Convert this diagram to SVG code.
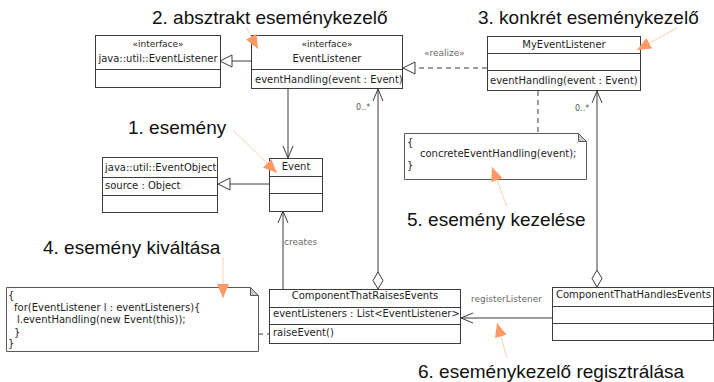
<svg xmlns="http://www.w3.org/2000/svg" width="714" height="382" viewBox="0 0 714 382">
  <style>
    .box { fill: #ffffff; stroke: #3c3c3c; stroke-width: 1; }
    .div { stroke: #3c3c3c; stroke-width: 1; }
    .t { font-family: "DejaVu Sans", sans-serif; font-size: 10px; fill: #1e1e1e; }
    .c { text-anchor: middle; }
    .lbl { font-family: "DejaVu Sans", sans-serif; font-size: 9px; fill: #6a6a6a; }
    .mult { font-family: "DejaVu Sans", sans-serif; font-size: 8px; fill: #555555; }
    .big { font-family: "Liberation Sans", Arial, sans-serif; font-size: 19px; fill: #111111; }
    .edge { fill: none; stroke: #3c3c3c; stroke-width: 1; }
    .dash { stroke-dasharray: 5 4; }
    .hollow { fill: #ffffff; stroke: #3c3c3c; stroke-width: 1; }
    .note { fill: #ffffff; stroke: #5a5a5a; stroke-width: 1; }
    .fold { fill: #c8c8c8; stroke: #5a5a5a; stroke-width: 1; }
    .callout { fill: none; stroke: #ffcdb0; stroke-width: 1; marker-end: url(#orangeHead); }
  </style>
  <defs>
    <marker id="orangeHead" markerUnits="userSpaceOnUse" markerWidth="16" markerHeight="14" refX="14" refY="6" orient="auto">
      <path d="M0,0 L14,6 L0,12 Z" fill="#ff9966"/>
    </marker>
  </defs>

  <rect width="714" height="382" fill="#ffffff"/>

  <!-- connectors -->
  <g id="connectors">
    <!-- EventListener generalizes java::util::EventListener -->
    <line class="edge" x1="251" y1="61" x2="232" y2="61"/>
    <path class="hollow" d="M220,61 L232,55 L232,67 Z"/>

    <!-- MyEventListener realizes EventListener -->
    <line class="edge dash" x1="487" y1="68" x2="415" y2="68"/>
    <path class="hollow" d="M403,68 L415,62 L415,74 Z"/>
    <text class="lbl" x="424" y="56">«realize»</text>

    <!-- EventListener uses Event -->
    <line class="edge" x1="288" y1="89" x2="288" y2="158"/>
    <path class="edge" d="M283,146 L288,158 L293,146"/>

    <!-- Event generalizes java::util::EventObject -->
    <line class="edge" x1="269" y1="184" x2="230" y2="184"/>
    <path class="hollow" d="M218,184 L230,178 L230,190 Z"/>

    <!-- creates -->
    <line class="edge" x1="283" y1="289" x2="283" y2="211"/>
    <path class="edge" d="M278,223 L283,211 L288,223"/>
    <text class="lbl" x="284" y="245">creates</text>

    <!-- ComponentThatRaisesEvents aggregates EventListener -->
    <line class="edge" x1="378" y1="272" x2="378" y2="89"/>
    <path class="edge" d="M373,101 L378,89 L383,101"/>
    <path class="hollow" d="M378,272 L373,280.5 L378,289 L383,280.5 Z"/>
    <text class="mult" x="356" y="110">0..*</text>

    <!-- ComponentThatHandlesEvents aggregates MyEventListener -->
    <line class="edge" x1="597" y1="270" x2="597" y2="91"/>
    <path class="edge" d="M592,103 L597,91 L602,103"/>
    <path class="hollow" d="M597,270 L592,278.5 L597,287 L602,278.5 Z"/>
    <text class="mult" x="575" y="111">0..*</text>

    <!-- note anchors -->
    <line class="edge dash" x1="538" y1="91" x2="538" y2="133"/>
    <line class="edge dash" x1="258" y1="334" x2="269" y2="334"/>

    <!-- registerListener -->
    <line class="edge" x1="552" y1="318" x2="461" y2="318"/>
    <path class="edge" d="M473,313 L461,318 L473,323"/>
    <text class="lbl" x="471" y="302">registerListener</text>
  </g>

  <!-- class nodes -->
  <g id="java-util-EventListener">
    <rect class="box" x="95.5" y="35.5" width="125" height="52"/>
    <line class="div" x1="95.5" y1="69.5" x2="220.5" y2="69.5"/>
    <text class="t c" x="158" y="47" style="font-size:9px">«interface»</text>
    <text class="t c" x="158" y="62">java::util::EventListener</text>
  </g>

  <g id="EventListener">
    <rect class="box" x="251.5" y="35.5" width="151" height="53"/>
    <line class="div" x1="251.5" y1="69.5" x2="402.5" y2="69.5"/>
    <text class="t c" x="327" y="47" style="font-size:9px">«interface»</text>
    <text class="t c" x="327" y="62">EventListener</text>
    <text class="t" x="255" y="83">eventHandling(event : Event)</text>
  </g>

  <g id="MyEventListener">
    <rect class="box" x="487.5" y="36.5" width="153" height="54"/>
    <line class="div" x1="487.5" y1="53.5" x2="640.5" y2="53.5"/>
    <line class="div" x1="487.5" y1="70.5" x2="640.5" y2="70.5"/>
    <text class="t c" x="564" y="48">MyEventListener</text>
    <text class="t" x="490" y="84">eventHandling(event : Event)</text>
  </g>

  <g id="java-util-EventObject">
    <rect class="box" x="102.5" y="157.5" width="115" height="55"/>
    <line class="div" x1="102.5" y1="177.5" x2="217.5" y2="177.5"/>
    <line class="div" x1="102.5" y1="195.5" x2="217.5" y2="195.5"/>
    <text class="t" x="105" y="171">java::util::EventObject</text>
    <text class="t" x="105" y="189">source : Object</text>
  </g>

  <g id="Event">
    <rect class="box" x="269.5" y="158.5" width="53" height="53"/>
    <line class="div" x1="269.5" y1="176.5" x2="322.5" y2="176.5"/>
    <line class="div" x1="269.5" y1="193.5" x2="322.5" y2="193.5"/>
    <text class="t c" x="296" y="170">Event</text>
  </g>

  <g id="ComponentThatRaisesEvents">
    <rect class="box" x="269.5" y="289.5" width="191" height="54"/>
    <line class="div" x1="269.5" y1="307.5" x2="460.5" y2="307.5"/>
    <line class="div" x1="269.5" y1="324.5" x2="460.5" y2="324.5"/>
    <text class="t c" x="365" y="299">ComponentThatRaisesEvents</text>
    <text class="t" x="273" y="317">eventListeners : List&lt;EventListener&gt;</text>
    <text class="t" x="273" y="336">raiseEvent()</text>
  </g>

  <g id="ComponentThatHandlesEvents">
    <rect class="box" x="552.5" y="287.5" width="161" height="53"/>
    <line class="div" x1="552.5" y1="306.5" x2="713.5" y2="306.5"/>
    <line class="div" x1="552.5" y1="323.5" x2="713.5" y2="323.5"/>
    <text class="t" x="556" y="298">ComponentThatHandlesEvents</text>
  </g>

  <!-- notes -->
  <g id="note-concreteEventHandling">
    <path class="note" d="M404.5,133.5 L578.5,133.5 L586.5,141.5 L586.5,179.5 L404.5,179.5 Z"/>
    <path class="fold" d="M578.5,133.5 L586.5,141.5 L578.5,141.5 Z"/>
    <text class="t" x="407" y="146">{</text>
    <text class="t" x="420" y="157">concreteEventHandling(event);</text>
    <text class="t" x="407" y="169">}</text>
  </g>

  <g id="note-raiseEvent">
    <path class="note" d="M6.5,287.5 L250.5,287.5 L258.5,295.5 L258.5,351.5 L6.5,351.5 Z"/>
    <path class="fold" d="M250.5,287.5 L258.5,295.5 L250.5,295.5 Z"/>
    <text class="t" x="8" y="299">{</text>
    <text class="t" x="14" y="311">for(EventListener l : eventListeners){</text>
    <text class="t" x="17" y="323">l.eventHandling(new Event(this));</text>
    <text class="t" x="14" y="336">}</text>
    <text class="t" x="8" y="347">}</text>
  </g>

  <!-- step callouts -->
  <g id="callouts">
    <text class="big" x="152" y="24">2. absztrakt eseménykezelő</text>
    <line class="callout" x1="246" y1="27" x2="258" y2="49"/>

    <text class="big" x="478" y="24">3. konkrét eseménykezelő</text>
    <line class="callout" x1="677" y1="28" x2="637" y2="50"/>

    <text class="big" x="128" y="134">1. esemény</text>
    <line class="callout" x1="233" y1="130" x2="277" y2="173"/>

    <text class="big" x="407" y="226">5. esemény kezelése</text>
    <line class="callout" x1="507" y1="207" x2="492" y2="167"/>

    <text class="big" x="43" y="254">4. esemény kiváltása</text>
    <line class="callout" x1="223" y1="257" x2="223" y2="298"/>

    <text class="big" x="418" y="378">6. eseménykezelő regisztrálása</text>
    <line class="callout" x1="507" y1="358" x2="497" y2="323"/>
  </g>
</svg>
